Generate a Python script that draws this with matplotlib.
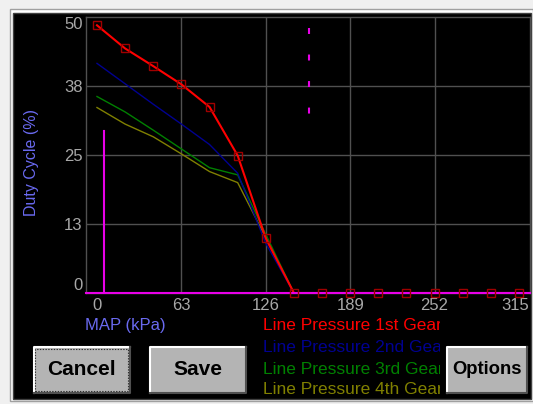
import matplotlib
matplotlib.use('Agg')
import matplotlib.pyplot as plt
import matplotlib.transforms as mtransforms
from matplotlib.patches import Rectangle
from matplotlib.lines import Line2D

plt.rcParams['font.family'] = ['Liberation Sans', 'DejaVu Sans']
plt.rcParams['lines.scale_dashes'] = False

### DATA ------------------------
map_kpa = [0, 21, 42, 63, 84, 105, 126, 147, 168, 189, 210, 231, 252, 273, 294, 315]
gear1 = [48.5, 44.3, 41.1, 37.8, 33.7, 24.9, 9.9, 0, 0, 0, 0, 0, 0, 0, 0, 0]
gear2 = [41.6, 37.9, 34.2, 30.6, 26.9, 21.7, 9.0, 0, 0, 0, 0, 0, 0, 0, 0, 0]
gear3 = [35.6, 32.8, 29.5, 26.1, 22.7, 21.4, 10.6, 0, 0, 0, 0, 0, 0, 0, 0, 0]
gear4 = [33.6, 30.6, 28.3, 25.2, 22.0, 20.0, 10.0, 0, 0, 0, 0, 0, 0, 0, 0, 0]
series_names = ['Line Pressure 1st Gear', 'Line Pressure 2nd Gear',
                'Line Pressure 3rd Gear', 'Line Pressure 4th Gear']
series_colors = ['#ff0000', '#000090', '#008000', '#808000']
# live operating point and cursor
op_x, op_y = 5.4, 29.3
cursor_x = 158.5
cursor_span = [48.0, 32.5]
x_ticks = [0, 63, 126, 189, 252, 315]
y_ticks = [0, 12.5, 25, 37.5, 50]
y_labels = ['0', '13', '25', '38', '50']
grid_x = [63, 126, 189, 252]
grid_y = [12.5, 25, 37.5]

MAGENTA = '#e800e8'
GRID = '#505050'
LABEL_BLUE = '#6a6af0'

### FIGURE / FRAME ------------------------
W, H = 533, 404
fig = plt.figure(figsize=(W / 100, H / 100), dpi=100)
fig.patch.set_facecolor('#f0f0f0')

def fx(x):
    return x / W

def fy(y):
    return 1 - y / H

def frect(x0, y0, x1, y1, **kw):
    r = Rectangle((fx(x0), fy(y1)), (x1 - x0) / W, (y1 - y0) / H,
                  transform=fig.transFigure, **kw)
    fig.add_artist(r)
    return r

frect(10, 9, 533, 401, facecolor='white', edgecolor='#a0a0a0', lw=1, zorder=-3)
frect(13, 13, 531, 399, facecolor='black', edgecolor='#404040', lw=1, zorder=-2)

### PLOT ------------------------
ax = fig.add_axes([fx(86), fy(293), (530 - 86) / W, (293 - 17) / H])
ax.set_facecolor('black')
ax.set_xlim(-8.2, 323.2)
ax.set_ylim(0, 50)
for s in ax.spines.values():
    s.set_color(GRID)
    s.set_linewidth(1)
ax.vlines(grid_x, 0, 50, color=GRID, lw=1, zorder=1)
ax.hlines(grid_y, -8.2, 323.2, color=GRID, lw=1, zorder=1)

ax.set_xticks(x_ticks, [str(v) for v in x_ticks])
ax.set_yticks(y_ticks, y_labels)
ax.tick_params(axis='both', length=0, colors='#a8a8a8', labelsize=12)
ax.tick_params(axis='x', pad=3.6)
ax.tick_params(axis='y', pad=2.4)
yt = ax.yaxis.get_major_ticks()
yt[0].label1.set_va('bottom')
yt[-1].label1.set_va('top')
xt = ax.xaxis.get_major_ticks()
xt[-1].label1.set_transform(xt[-1].label1.get_transform() +
                            mtransforms.ScaledTranslation(-3.5 / 100, 0, fig.dpi_scale_trans))

gears = [gear1, gear2, gear3, gear4]
for vals, col in reversed(list(zip(gears, series_colors))):
    ax.plot(map_kpa, vals, color=col, lw=1.5 if col == '#ff0000' else 1.0, zorder=3)
ax.axhline(0, color=MAGENTA, lw=1.5, zorder=4, clip_on=False)
ax.plot(map_kpa, gear1, ls='none', marker='s', ms=5.3, mfc='none', mec='#a00000',
        mew=1, zorder=5, clip_on=False)
ax.plot([op_x, op_x], [0, op_y], color=MAGENTA, lw=1.5, zorder=4)
ax.plot([cursor_x, cursor_x], cursor_span, color=MAGENTA, lw=1.5, dashes=(4.3, 14.8), zorder=4)

### LABELS ------------------------
fig.text(fx(31.7), fy(163), 'Duty Cycle (%)', rotation=90, ha='center', va='center',
         color=LABEL_BLUE, fontsize=11.5)
fig.text(fx(85), fy(325.5), 'MAP (kPa)', ha='left', va='center', color=LABEL_BLUE, fontsize=12)

clip = Rectangle((fx(255), fy(402)), (440 - 255) / W, 90 / H, transform=fig.transFigure)
legend_y = [326, 347.5, 369, 389.5]
for name, col, yy in zip(series_names, series_colors, legend_y):
    t = fig.text(fx(263), fy(yy), name, ha='left', va='center', color=col, fontsize=12.5)
    t.set_clip_path(clip)
    t.set_clip_on(True)

### BUTTONS ------------------------
def button(x0, y0, x1, y1, label, size, focus=False):
    frect(x0, y0, x1, y1, facecolor='#b4b4b4', edgecolor='none', zorder=1)
    fig.add_artist(Line2D([fx(x0), fx(x0), fx(x1)], [fy(y1), fy(y0), fy(y0)],
                          transform=fig.transFigure, color='white', lw=1.5, zorder=2))
    fig.add_artist(Line2D([fx(x0), fx(x1), fx(x1)], [fy(y1), fy(y1), fy(y0)],
                          transform=fig.transFigure, color='#505050', lw=1.5, zorder=2))
    if focus:
        frect(x0 + 1.5, y0 + 1.5, x1 - 1.5, y1 - 1.5, facecolor='none', edgecolor='#303030',
              lw=0.8, linestyle=(0, (1, 1)), zorder=3)
    fig.text(fx((x0 + x1) / 2), fy((y0 + y1) / 2), label, ha='center', va='center',
             fontweight='bold', fontsize=size, color='black')

button(33.5, 347, 129.5, 392.5, 'Cancel', 15, focus=True)
button(149.5, 347, 245.5, 392.5, 'Save', 15)
button(447, 347, 526.5, 392.5, 'Options', 13.3)

fig.savefig('out.png', dpi=100, facecolor=fig.get_facecolor())
